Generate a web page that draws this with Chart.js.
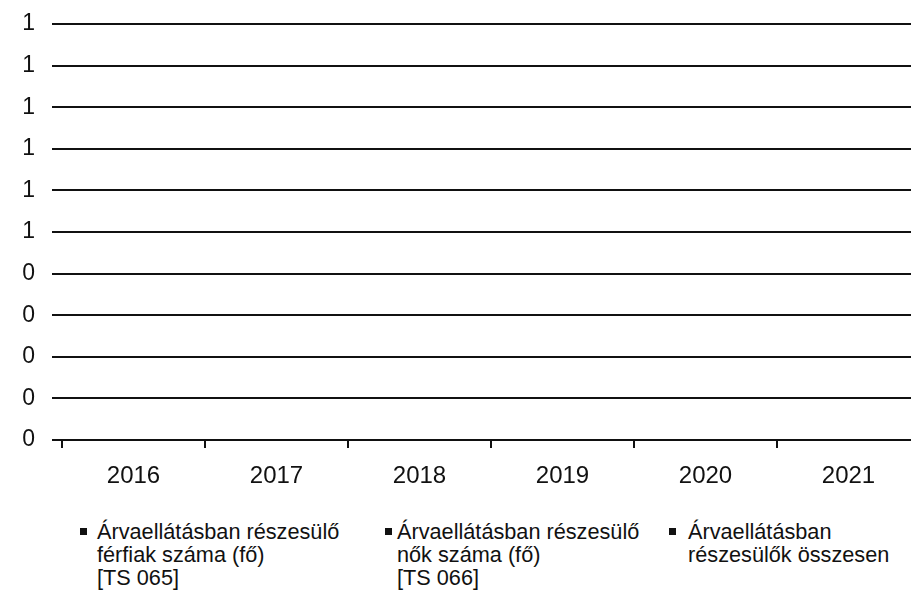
<!DOCTYPE html>
<html>
<head>
<meta charset="utf-8">
<script src="https://cdn.jsdelivr.net/npm/chart.js@4/dist/chart.umd.min.js"></script>
<style>
  html, body { margin: 0; padding: 0; background: #fff; overflow: hidden; width: 911px; height: 598px; }
  #wrap { position: absolute; left: 0; top: 0; width: 925px; height: 500px; }
  .leg { position: absolute; font-family: "Liberation Sans", Arial, sans-serif; font-size: 21.7px; line-height: 23px; color: #111; white-space: nowrap; }
  .mk { position: absolute; width: 7px; height: 7px; background: #111; }
</style>
</head>
<body>
<div id="wrap"><canvas id="c"></canvas></div>
<div id="legend"></div>
<script>
// ---- data ----
const categories = ['2016', '2017', '2018', '2019', '2020', '2021'];
const seriesNames = [
  ['Árvaellátásban részesülő', 'férfiak száma (fő)', '[TS 065]'],
  ['Árvaellátásban részesülő', 'nők száma (fő)', '[TS 066]'],
  ['Árvaellátásban', 'részesülők összesen']
];
const maleValues = [0, 0, 0, 0, 0, 0];
const femaleValues = [0, 0, 0, 0, 0, 0];
const totalValues = [0, 0, 0, 0, 0, 0];
const yTickLabels = ['0', '0', '0', '0', '0', '1', '1', '1', '1', '1', '1'];

const FONT_X = { family: '"Liberation Sans", Arial, sans-serif', size: 24 };
const FONT_Y = { family: '"Liberation Sans", Arial, sans-serif', size: 23, lineHeight: 0.6 };

new Chart(document.getElementById('c'), {
  type: 'bar',
  data: {
    labels: categories,
    datasets: [
      { label: seriesNames[0].join(' '), data: maleValues, backgroundColor: '#111' },
      { label: seriesNames[1].join(' '), data: femaleValues, backgroundColor: '#111' },
      { label: seriesNames[2].join(' '), data: totalValues, backgroundColor: '#111' }
    ]
  },
  options: {
    responsive: true,
    maintainAspectRatio: false,
    animation: false,
    layout: { padding: { top: 24, right: 5, left: 0, bottom: 0 } },
    plugins: { legend: { display: false }, tooltip: { enabled: false } },
    scales: {
      x: {
        afterFit: (s) => { s.height = 60; },
        grid: { display: true, drawOnChartArea: false, drawTicks: true, tickLength: 8, color: '#111', lineWidth: 2 },
        border: { display: false },
        ticks: { font: FONT_X, color: '#111', padding: 14, maxRotation: 0 }
      },
      y: {
        min: 0, max: 1,
        afterFit: (s) => { s.width = 62; },
        grid: { color: '#111', lineWidth: 2, tickLength: 10 },
        border: { display: false },
        ticks: {
          stepSize: 0.1, font: FONT_Y, color: '#111', padding: 17,
          callback: (v, i) => yTickLabels[i]
        }
      }
    }
  }
});

// ---- HTML legend (multi-line labels) ----
const legendPos = [{ mk: 80, tx: 97 }, { mk: 385, tx: 397 }, { mk: 669, tx: 688 }];
const legendEl = document.getElementById('legend');
seriesNames.forEach((lines, i) => {
  const mk = document.createElement('div');
  mk.className = 'mk';
  mk.style.left = legendPos[i].mk + 'px';
  mk.style.top = '528px';
  legendEl.appendChild(mk);
  const t = document.createElement('div');
  t.className = 'leg';
  t.style.left = legendPos[i].tx + 'px';
  t.style.top = '520px';
  t.innerHTML = lines.join('<br>');
  legendEl.appendChild(t);
});
</script>
</body>
</html>
